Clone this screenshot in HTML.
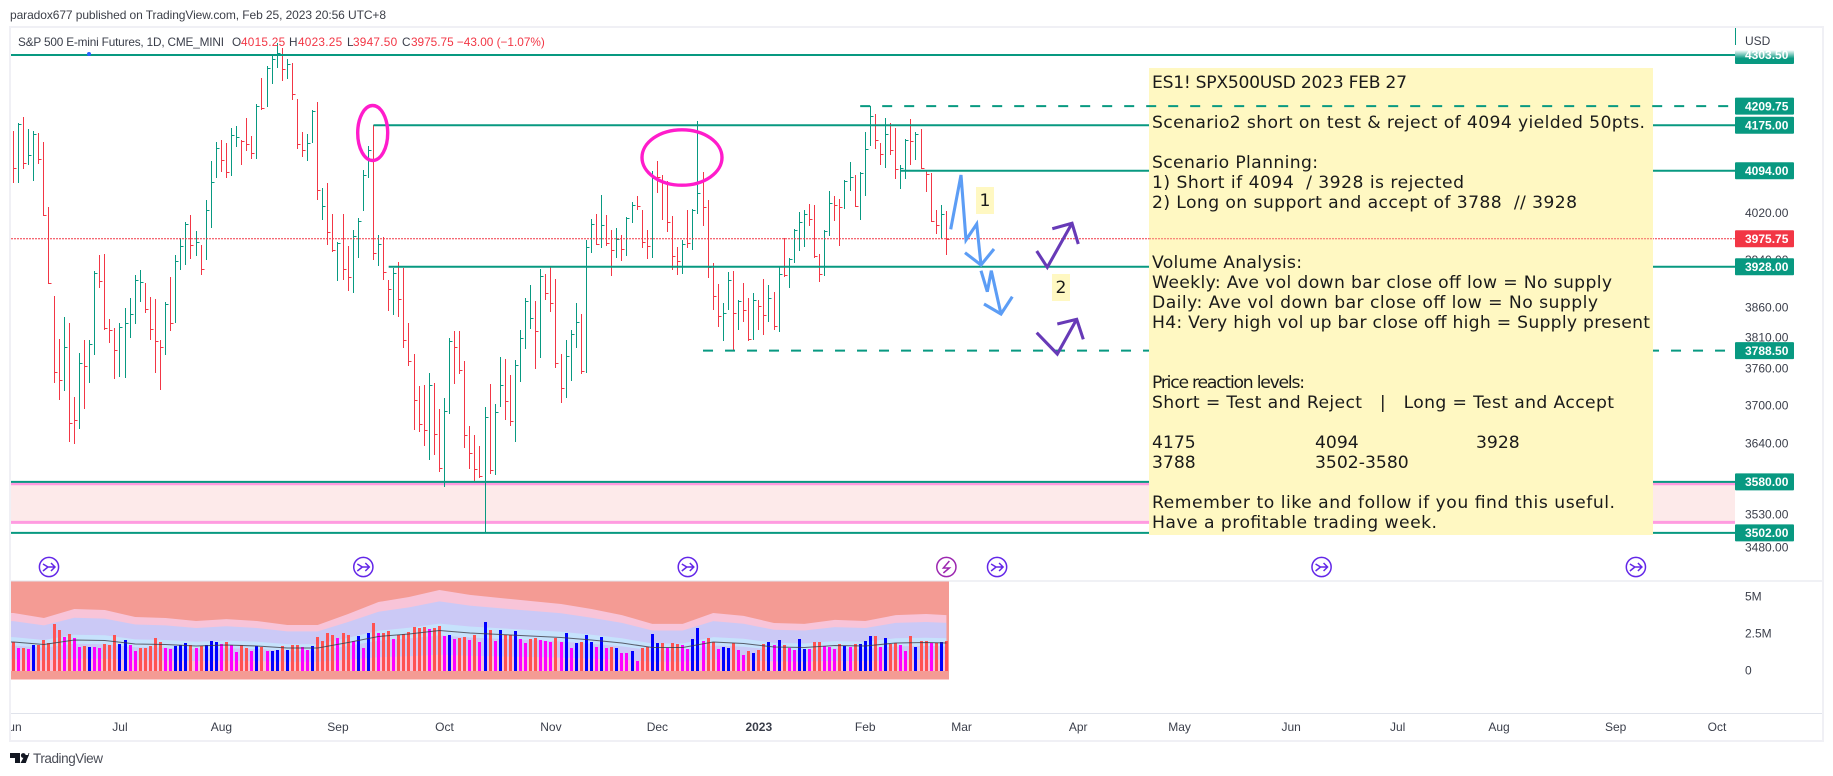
<!DOCTYPE html>
<html lang="en">
<head>
<meta charset="utf-8">
<title>S&amp;P 500 E-mini Futures chart</title>
<style>
html,body{margin:0;padding:0;background:#fff;width:1833px;height:776px;overflow:hidden}
svg{display:block}
text{font-family:"Liberation Sans",sans-serif;white-space:pre}
.note{font-family:"DejaVu Sans","Liberation Sans",sans-serif;font-size:17.2px;fill:#1a1a1a}
.tick{font-size:12px;fill:#3a3e4a}
.plabel{font-size:12px;font-weight:bold;fill:#fff}
</style>
</head>
<body>
<svg id="chart" width="1833" height="776" viewBox="0 0 1833 776" xmlns="http://www.w3.org/2000/svg">
  <defs>
    <linearGradient id="fadeLabel" x1="0" y1="0" x2="0" y2="1">
      <stop offset="0" stop-color="#ffffff"/>
      <stop offset="0.6" stop-color="#089981"/>
      <stop offset="1" stop-color="#089981"/>
    </linearGradient>
    <clipPath id="paneClip"><rect x="11" y="28" width="1811" height="712"/></clipPath>
  </defs>
  <text x="10" y="19" font-size="12" textLength="376" fill="#3c3f48">paradox677 published on TradingView.com, Feb 25, 2023 20:56 UTC+8</text>
  <rect x="10" y="27" width="1813" height="714" fill="none" stroke="#f0f0f5" stroke-width="2"/>
  <line x1="1735.5" x2="1735.5" y1="28" y2="45" stroke="#089981" stroke-width="1"/>
  <line x1="11" x2="1822" y1="581" y2="581" stroke="#e0e3eb" stroke-width="1"/>
  <line x1="11" x2="1822" y1="713.5" y2="713.5" stroke="#e0e3eb" stroke-width="1"/>

  <g id="zoneLayer"></g>
  <g id="barLayer"></g>
  <g id="levelLayer"></g>
  <circle cx="89" cy="54" r="2" fill="#2962ff"/>

  <rect x="1149" y="68" width="504" height="467" fill="#fff8c2"/>
  <g>
    <text class="note" x="1152" y="88" textLength="255">ES1! SPX500USD 2023 FEB 27</text>
    <text class="note" x="1152" y="128" textLength="493">Scenario2 short on test &amp; reject of 4094 yielded 50pts.</text>
    <text class="note" x="1152" y="168" textLength="166">Scenario Planning:</text>
    <text class="note" x="1152" y="188" textLength="312">1) Short if 4094  / 3928 is rejected</text>
    <text class="note" x="1152" y="208" textLength="425">2) Long on support and accept of 3788  // 3928</text>
    <text class="note" x="1152" y="268" textLength="150">Volume Analysis:</text>
    <text class="note" x="1152" y="288" textLength="460">Weekly: Ave vol down bar close off low = No supply</text>
    <text class="note" x="1152" y="308" textLength="446">Daily: Ave vol down bar close off low = No supply</text>
    <text class="note" x="1152" y="328" textLength="498">H4: Very high vol up bar close off high = Supply present</text>
    <text class="note" x="1152" y="388" textLength="153">Price reaction levels:</text>
    <text class="note" x="1152" y="408" textLength="462">Short = Test and Reject   |   Long = Test and Accept</text>
    <text class="note" x="1152" y="448">4175</text>
    <text class="note" x="1315" y="448">4094</text>
    <text class="note" x="1476" y="448">3928</text>
    <text class="note" x="1152" y="468">3788</text>
    <text class="note" x="1315" y="468">3502-3580</text>
    <text class="note" x="1152" y="508" textLength="463">Remember to like and follow if you find this useful.</text>
    <text class="note" x="1152" y="528" textLength="285">Have a profitable trading week.</text>
  </g>
  <g id="overLayer"></g>

  <ellipse cx="372.7" cy="133" rx="15" ry="27.5" fill="none" stroke="#ff1ccb" stroke-width="3.4"/>
  <ellipse cx="682" cy="157.5" rx="40" ry="27.7" fill="none" stroke="#ff1ccb" stroke-width="3.4"/>

  <g fill="none" stroke="#5c9df5" stroke-width="3.1" stroke-linejoin="miter">
    <polyline points="950.7,229.3 961,175 966,240 976.7,224 981,265"/>
    <polyline points="965,252.7 981,265 994,249"/>
    <polyline points="981,270.7 987.3,291.7 991.3,270.7 1001,314"/>
    <polyline points="984,304 1001,314 1012.3,296.7"/>
  </g>
  <g fill="none" stroke="#673ab7" stroke-width="3.1" stroke-linejoin="miter">
    <polyline points="1036.7,251 1047.3,267.3 1072,223.3"/>
    <polyline points="1052.3,228.7 1072,223.3 1078.3,244"/>
    <polyline points="1036.7,332.7 1057.3,354 1076.7,319.3"/>
    <polyline points="1057.3,324 1076.7,319.3 1083.3,339.3"/>
  </g>
  <g>
    <rect x="976" y="187" width="18" height="27" fill="#fff8c2"/>
    <text class="note" x="985" y="206" text-anchor="middle">1</text>
  </g>
  <g>
    <rect x="1052" y="274" width="18" height="27" fill="#fff8c2"/>
    <text class="note" x="1061" y="293" text-anchor="middle">2</text>
  </g>

  <g id="eventLayer"></g>
  <g id="volumeLayer"></g>
  <g id="axisLayer" clip-path="url(#paneClip)"></g>

  <g font-size="11.8" fill="#3a3e4a">
    <text x="18" y="46" textLength="206">S&amp;P 500 E-mini Futures, 1D, CME_MINI</text>
    <text x="232" y="46">O</text><text x="241" y="46" fill="#f23645" letter-spacing="0.25">4015.25</text>
    <text x="289" y="46">H</text><text x="298" y="46" fill="#f23645" letter-spacing="0.25">4023.25</text>
    <text x="347" y="46">L</text><text x="353" y="46" fill="#f23645" letter-spacing="0.25">3947.50</text>
    <text x="402" y="46">C</text><text x="411" y="46" fill="#f23645">3975.75 −43.00 (−1.07%)</text>
  </g>
  <text x="1745" y="45" font-size="12" fill="#3a3e4a">USD</text>

  <g>
    <path d="M10 753h10v10h-5v-5h-5z" fill="#131722"/>
    <circle cx="23.3" cy="755.5" r="2.4" fill="#131722"/>
    <path d="M25 763l3.6-10h0.8l-3.6 10h-0.8zM20.5 763l4.5-8h4l-3.6 8z" fill="#131722"/>
    <text x="33" y="763" font-size="13.5" textLength="70" fill="#4a4d57">TradingView</text>
  </g>

<script>
// ---- price data ----
const barHighs = [4165,4179,4190,4168,4165,4161,4145,4031,3879,3808,
3844,3834,3714,3785,3806,3806,3921,3948,3950,3841,
3826,3834,3859,3875,3914,3923,3901,3877,3874,3806,
3869,3911,3948,3977,4005,4017,3989,3965,4043,4111,
4145,4149,4143,4170,4174,4149,4188,4156,4214,4261,
4283,4303.5,4326,4316,4296,4289,4223,4163,4159,4203,
4217,4064,4073,4018,3970,4018,3963,3991,4011,4095,
4138,4176,3982,3979,3906,3926,3936,3926,3834,3783,
3731,3733,3752,3736,3694,3712,3809,3821,3821,3772,
3667,3653,3636,3698,3734,3702,3778,3775,3749,3773,
3822,3875,3897,3870,3924,3916,3928,3907,3783,3806,
3822,3867,3849,3974,4010,4018,4051,4017,3991,3994,
3982,4013,4039,4050,4025,3991,4094,4111,4087,4076,
4015,3961,3974,4025,4027,4183,4092,4043,3934,3899,
3867,3919,3921,3872,3901,3875,3884,3872,3907,3897,
3886,3928,3977,3943,3992,4022,4025,4035,4034,3950,
3991,4058,4050,4044,4078,4109,4087,4092,4163,4209.75,
4195,4143,4188,4179,4170,4104,4151,4186,4163,4168,
4093,4090,4025,4034,4023.25];
const barLows = [4073,4073,4097,4104,4076,4106,4015,3899,3736,3709,
3723,3642,3639,3663,3694,3736,3782,3892,3822,3801,
3743,3746,3744,3809,3832,3869,3851,3806,3752,3725,
3782,3821,3834,3923,3931,3941,3946,3914,3940,3994,
4081,4092,4081,4085,4136,4104,4129,4115,4115,4203,
4208,4250,4279,4256,4259,4221,4133,4118,4111,4143,
4043,4008,3965,3953,3904,3906,3887,3884,3943,4024,
4081,3940,3929,3906,3854,3847,3844,3793,3763,3661,
3658,3636,3614,3622,3596,3572,3687,3734,3751,3633,
3600,3582,3586,3502,3592,3591,3698,3677,3667,3642,
3738,3791,3824,3759,3776,3872,3852,3760,3704,3712,
3739,3793,3751,3752,3951,3965,3960,3963,3913,3943,
3938,3946,4003,4025,3960,3941,3943,4055,4008,3987,
3923,3914,3916,3960,3957,4018,3998,3909,3856,3827,
3804,3856,3790,3822,3836,3804,3806,3822,3814,3836,
3822,3819,3911,3892,3935,3955,3961,3998,3943,3902,
3913,3981,4006,3963,4027,4059,4030,4008,4050,4138,
4133,4104,4099,4122,4079,4062,4079,4104,4113,4097,
4056,4005,3984,3975,3947.5];
const barCloses = [4099,4177,4108,4122,4159,4115,4017,3901,3754,3741,
3795,3672,3677,3768,3763,3799,3918,3904,3826,3822,
3790,3827,3834,3849,3906,3902,3857,3824,3804,3795,
3866,3834,3938,3963,4001,3965,3970,3924,4025,4074,
4134,4113,4092,4157,4154,4147,4142,4126,4210,4206,
4279,4296,4307,4278,4287,4232,4142,4131,4143,4201,
4060,4032,3987,3957,3969,3924,3911,3981,4006,4087,
4131,3951,3967,3919,3891,3918,3874,3806,3772,3709,
3671,3661,3733,3655,3602,3691,3804,3795,3757,3653,
3625,3600,3589,3682,3599,3690,3733,3707,3675,3765,
3809,3870,3842,3821,3912,3884,3867,3768,3728,3780,
3816,3836,3756,3962,4001,3967,3999,3969,3957,3975,
3958,4012,4034,4032,3970,3963,4081,4083,4074,4005,
3946,3938,3967,3969,4025,4055,4030,3927,3879,3845,
3851,3906,3851,3870,3856,3808,3872,3862,3847,3875,
3829,3916,3914,3941,3991,4005,4018,4010,3946,3916,
3989,4037,4034,4030,4076,4083,4032,4090,4133,4192,
4149,4124,4159,4131,4097,4099,4149,4147,4159,4099,
4088,4006,3999,4018,3975.75];
const barUp = [0,1,0,1,1,0,0,0,0,0,
1,0,0,1,0,1,1,0,0,0,
0,1,1,1,1,1,0,0,0,0,
1,0,1,1,1,0,1,0,1,1,
1,0,0,1,1,0,0,0,1,0,
1,1,1,0,1,0,0,0,1,1,
0,1,0,0,1,0,0,1,1,1,
1,0,1,0,0,1,0,0,0,0,
0,0,1,0,0,1,1,0,0,0,
0,0,0,1,0,1,1,0,0,1,
1,1,1,0,1,0,0,0,0,1,
1,1,0,1,1,0,1,0,0,1,
0,1,1,0,0,0,1,0,0,0,
0,0,1,0,1,1,0,0,0,0,
1,1,0,1,0,0,1,0,0,1,
0,1,0,1,1,1,1,0,0,0,
1,1,0,0,1,1,0,1,1,1,
0,0,1,0,0,1,1,0,1,0,
0,0,0,1,0];

// ---- volume data, in millions ----
const volumes = [1.98,1.55,1.55,1.49,1.76,1.76,2.09,1.89,3.18,2.77,2.30,2.50,2.23,1.62,1.69,1.62,1.62,1.55,1.82,1.76,
2.43,1.82,2.09,1.76,1.35,1.55,1.55,1.69,2.23,1.96,1.55,1.49,1.69,1.76,1.89,1.76,1.55,1.69,1.76,2.03,
1.96,1.82,1.96,1.76,1.28,1.76,1.55,1.35,1.69,1.62,1.35,1.35,1.42,1.69,1.42,1.76,1.76,1.62,1.42,1.69,
2.30,2.03,2.57,2.43,2.23,2.57,2.43,2.03,2.36,1.55,2.57,3.24,2.57,2.57,2.70,2.16,2.43,2.50,2.64,2.97,2.91,
2.97,2.84,2.91,3.04,2.36,2.43,2.16,2.23,2.30,2.09,2.43,1.96,3.31,2.77,2.03,2.77,2.43,2.43,2.70,2.16,
1.89,2.16,2.23,2.09,2.03,1.96,2.23,1.96,2.57,1.55,1.89,1.96,2.43,1.96,1.62,2.30,1.55,1.62,1.55,1.22,
1.22,1.35,0.68,1.55,1.62,2.50,1.89,1.89,1.55,1.89,1.82,1.76,1.49,2.16,2.91,2.03,2.23,1.96,1.49,1.62,
1.55,1.89,1.42,1.08,1.35,1.22,1.42,1.82,1.96,1.76,2.09,1.76,1.55,1.42,2.16,1.49,1.49,1.96,1.96,1.69,
1.62,1.49,1.82,1.69,1.62,1.82,1.82,2.03,2.36,2.36,1.62,2.23,1.82,1.89,1.76,1.35,2.36,1.62,2.03,2.03,
1.89,1.89,1.96,2.03];
const volumeKinds = ("rmrmbrrrrrmrmmrbmmrrrbbmmrrrrrmmbbbrmrbbbmrmmrrmbrmbbrbrrmmbrrrrmrrmbmbrmrrmrrrrr" +
"rmrrmbmrrmrmbrmbrrbmmrrmmmrmbmbrbbmbmrbmmbmrrbbrmrrmmbbmrrmbbrmmrbrrbmbrmmbbmrrmmmrbmrbbbrmbrrmmrbrrmrbr").split("");
const volumeUpperBand = [3.92,3.58,4.19,4.12,3.65,3.58,3.38,3.51,3.38,3.11,3.11,3.85,4.66,5.0,5.47,5.14,4.93,4.73,4.53,4.19,3.78,3.18,3.18,3.92,3.72,3.24,3.18,3.45,3.38,3.78,3.85,3.78];
const volumeTickValues = [5, 2.5, 0];
const volumeTickLabels = ["5M", "2.5M", "0"];

// ---- axis and level values ----
const priceTicks = [4180, 4020, 3940, 3860, 3810, 3760, 3700, 3640, 3530, 3480];
const levelPrices = [4303.5, 4175, 4094, 3928, 3788.5, 3580, 3502];
const levelStartBars = [-1, 71, 175, 74, 136, -1, -1];
const levelDashed = [0, 0, 0, 0, 1, 0, 0];
const topDashedPrice = 4209.75;
const topDashedStartBar = 167;
const lastPrice = 3975.75;
const zonePrices = [3577, 3518];
const timeLabels = ["Jun","Jul","Aug","Sep","Oct","Nov","Dec","2023","Feb","Mar","Apr","May","Jun","Jul","Aug","Sep","Oct"];
const timeLabelBars = [-0.3,21,41,64,85,106,127,147,168,187,210,230,252,273,293,316,336];
const eventBars = [7,69,133,184,194,258,320];
const eventTypes = ["split","split","split","bolt","split","split","split"];

// ---- axis functions ----
const SVGNS = "http://www.w3.org/2000/svg";
const GREEN = "#089981", RED = "#f23645";
function xOfBar(i){ return 13.5 + 5.07 * i; }
function yOfPrice(p){ return 55 + 2319 * Math.log(4303.5 / p); }
function yOfVolume(v){ return 671 - 14.8 * v; }
function mk(tag, attrs, parent){
  const el = document.createElementNS(SVGNS, tag);
  for (const k in attrs) el.setAttribute(k, attrs[k]);
  parent.appendChild(el);
  return el;
}
const zoneLayer = document.getElementById("zoneLayer");
const barLayer = document.getElementById("barLayer");
const levelLayer = document.getElementById("levelLayer");
const overLayer = document.getElementById("overLayer");
const eventLayer = document.getElementById("eventLayer");
const volumeLayer = document.getElementById("volumeLayer");
const axisLayer = document.getElementById("axisLayer");
const RIGHT = 1735;

// support zone
const zoneTop = yOfPrice(zonePrices[0]), zoneBottom = yOfPrice(zonePrices[1]);
const zoneFill = mk("rect", {x:11, y:zoneTop, width:RIGHT-11, height:zoneBottom-zoneTop, fill:"#fdeaea"}, zoneLayer);


zonePrices.forEach(function(p){
  const zl = mk("line", {x1:11, x2:RIGHT, y1:yOfPrice(p), y2:yOfPrice(p), stroke:"#ff9be0", "stroke-width":3}, zoneLayer);
  
  
});

// price bars (high-low with close tick)
barCloses.forEach(function(c, i){
  const col = barUp[i] ? GREEN : RED;
  const px = Math.floor(xOfBar(i)) + 0.5;
  const g = mk("g", {stroke:col, "stroke-width":1, "shape-rendering":"crispEdges"}, barLayer);
  
  
  mk("line", {x1:px, x2:px, y1:Math.round(yOfPrice(barHighs[i])), y2:Math.round(yOfPrice(barLows[i]))}, g);
  const yc = Math.round(yOfPrice(c)) + 0.5;
  mk("line", {x1:px, x2:px + 3, y1:yc, y2:yc}, g);
});

// horizontal levels
levelPrices.forEach(function(p, i){
  const x0 = levelStartBars[i] < 0 ? 11 : xOfBar(levelStartBars[i]);
  const attrs = {x1:x0, x2:levelDashed[i] ? 1726 : RIGHT, y1:yOfPrice(p), y2:yOfPrice(p), stroke:GREEN, "stroke-width":2};
  if (levelDashed[i]) attrs["stroke-dasharray"] = "10 12";
  const l = mk("line", attrs, levelLayer);
  
  
});
const lastUnder = mk("line", {x1:11, x2:RIGHT, y1:yOfPrice(lastPrice), y2:yOfPrice(lastPrice), stroke:RED, "stroke-width":1, "stroke-dasharray":"2 1"}, levelLayer);



// lines drawn over the note box
const topDash = mk("line", {x1:xOfBar(topDashedStartBar), x2:1729, y1:yOfPrice(topDashedPrice), y2:yOfPrice(topDashedPrice), stroke:GREEN, "stroke-width":2, "stroke-dasharray":"10 12"}, overLayer);


const lastOver = mk("line", {x1:1149, x2:1653, y1:yOfPrice(lastPrice), y2:yOfPrice(lastPrice), stroke:RED, "stroke-width":1, "stroke-dasharray":"2 1", opacity:0.75}, overLayer);



// event markers
eventBars.forEach(function(b, i){
  const cx = xOfBar(b), cy = 567;
  const col = eventTypes[i] === "bolt" ? "#9c27b0" : "#6327e8";
  const g = mk("g", {fill:"none", stroke:col, "stroke-width":1.5}, eventLayer);
  
  
  mk("circle", {cx:cx, cy:cy, r:9.6, fill:"#fff"}, g);
  if (eventTypes[i] === "bolt") {
    mk("path", {d:"M"+(cx+3)+" "+(cy-6)+"L"+(cx-3)+" "+(cy+1)+"H"+(cx+3)+"L"+(cx-3)+" "+(cy+6)}, g);
  } else {
    mk("path", {d:"M"+(cx-6)+" "+(cy-3)+"L"+(cx-1)+" "+cy+"H"+(cx+6)+"M"+(cx-6)+" "+(cy+4)+"L"+(cx-1)+" "+cy+"M"+(cx+2)+" "+(cy-4)+"L"+(cx+6)+" "+cy+"L"+(cx+2)+" "+(cy+4)}, g);
  }
});

// volume pane
const paneBg = mk("rect", {x:11, y:581.5, width:938, height:98, fill:"#f49b94"}, volumeLayer);


function bandBar(j){ return Math.min(j * 6, 184); }
function bandPoints(k){
  const pts = volumeUpperBand.map(function(v, j){ return xOfBar(bandBar(j)).toFixed(1) + "," + yOfVolume(v * k).toFixed(1); });
  pts.unshift("11," + yOfVolume(volumeUpperBand[0] * k).toFixed(1));
  return pts;
}
const bandColours = ["#f8c4d8", "#cbc9f6", "#c6e2fc", "#cbc9f6", "#f8c4d8"];
const bandFactors = [1, 0.86, 0.585, 0.44, 0.2];
bandFactors.forEach(function(k, n){
  const poly = mk("polygon", {points: bandPoints(k).join(" ") + " " + xOfBar(184).toFixed(1) + ",671 11,671", fill:bandColours[n]}, volumeLayer);
  
  
});
volumes.forEach(function(v, i){
  const kind = volumeKinds[i];
  const col = kind === "b" ? "#0000ff" : kind === "m" ? "#ff00ff" : "#ff5252";
  const top = Math.round(yOfVolume(v));
  const vb = mk("rect", {x:Math.floor(xOfBar(i)) - 1, y:top, width:3, height:671 - top, fill:col, "shape-rendering":"crispEdges"}, volumeLayer);
  
  
});
const smaLine = mk("polyline", {points: bandPoints(0.5).join(" "), fill:"none", stroke:"#3c3c46", "stroke-width":1, opacity:0.8}, volumeLayer);



// axes: tick text first so the price labels overlap it
priceTicks.forEach(function(p){
  const t = mk("text", {class:"tick", x:1745, y:yOfPrice(p) + 4.2}, axisLayer);
  
  
  t.textContent = p.toFixed(2);
});
volumeTickValues.forEach(function(v, i){
  const t = mk("text", {class:"tick", x:1745, y:yOfVolume(v) + 3.5}, axisLayer);
  
  
  t.textContent = volumeTickLabels[i];
});
timeLabels.forEach(function(lab, i){
  const attrs = {class:"tick", x:xOfBar(timeLabelBars[i]), y:731, "text-anchor":"middle"};
  if (lab === "2023") attrs["font-weight"] = "bold";
  const t = mk("text", attrs, axisLayer);
  
  
  t.textContent = lab;
});

// price labels
function priceLabel(p, fill, h, yShift){
  const y = yOfPrice(p);
  const r = mk("rect", {x:1735, y:y - 8.5 + yShift, width:59, height:h, rx:1, fill:fill}, axisLayer);
  
  
  const t = mk("text", {class:"plabel", x:1745, y:y + 4.2}, axisLayer);
  
  
  t.textContent = p.toFixed(2);
}
priceLabel(levelPrices[0], "url(#fadeLabel)", 14, 3.5);
priceLabel(topDashedPrice, GREEN, 17, 0);
levelPrices.slice(1).forEach(function(p){ priceLabel(p, GREEN, 17, 0); });
priceLabel(lastPrice, RED, 17, 0);
</script>
</svg>
</body>
</html>
